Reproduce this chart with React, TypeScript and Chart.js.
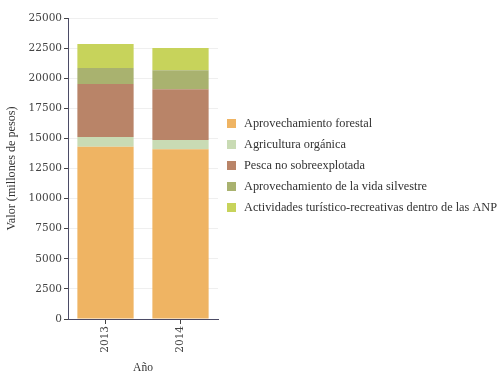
import React, { useEffect, useRef } from "react";
import { Chart, registerables } from "chart.js";

Chart.register(...registerables);

// Years on the x axis
const years = ["2013", "2014"];

// Value by activity, millions of pesos
const aprovechamientoForestal = [14300, 14100];
const agriculturaOrganica = [820, 760];
const pescaNoSobreexplotada = [4400, 4230];
const aprovechamientoVidaSilvestre = [1330, 1580];
const actividadesTuristicas = [2000, 1830];

const seriesNames = [
  "Aprovechamiento forestal",
  "Agricultura orgánica",
  "Pesca no sobreexplotada",
  "Aprovechamiento de la vida silvestre",
  "Actividades turístico-recreativas dentro de las ANP",
];
const seriesColors = ["#efb463", "#c9dbb4", "#b98468", "#a9b26f", "#c7d35b"];

const SERIF = "'Liberation Serif', 'Times New Roman', serif";
const TICK_FONT = "'DejaVu Serif', serif";

// Legend drawn beside the plot, one row per dataset
const sideLegend = {
  id: "sideLegend",
  afterDraw(chart: Chart) {
    const { ctx, chartArea } = chart;
    const rowGap = 21;
    const n = chart.data.datasets.length;
    const mid = (chartArea.top + chartArea.bottom) / 2 - 3;
    const firstY = mid - ((n - 1) * rowGap) / 2;
    const boxX = chartArea.right + 9;
    ctx.save();
    ctx.font = `12.3px ${SERIF}`;
    ctx.textBaseline = "middle";
    ctx.textAlign = "left";
    chart.data.datasets.forEach((ds, i) => {
      const y = firstY + i * rowGap;
      ctx.fillStyle = ds.backgroundColor as string;
      ctx.fillRect(boxX, y - 4.5, 9, 9);
      ctx.fillStyle = "#333";
      ctx.fillText(ds.label as string, boxX + 17, y + 0.5);
    });
    ctx.restore();
  },
};

export default function App() {
  const canvasRef = useRef<HTMLCanvasElement | null>(null);

  useEffect(() => {
    if (!canvasRef.current) return;
    const values = [
      aprovechamientoForestal,
      agriculturaOrganica,
      pescaNoSobreexplotada,
      aprovechamientoVidaSilvestre,
      actividadesTuristicas,
    ];
    const chart = new Chart(canvasRef.current, {
      type: "bar",
      data: {
        labels: years,
        datasets: values.map((data, i) => ({
          label: seriesNames[i],
          data,
          backgroundColor: seriesColors[i],
          borderWidth: 0,
          barPercentage: 0.75,
          categoryPercentage: 1,
        })),
      },
      plugins: [sideLegend],
      options: {
        responsive: false,
        animation: false,
        layout: { padding: { top: 18, left: 0, bottom: 0, right: 283 } },
        plugins: {
          tooltip: { enabled: false },
          legend: { display: false },
        },
        scales: {
          x: {
            stacked: true,
            afterFit: (scale) => {
              scale.height = 54;
            },
            grid: {
              offset: false,
              color: "rgba(0,0,0,0)",
              tickColor: "#444",
              tickLength: 5,
            },
            border: { color: "#4b4b66", width: 1 },
            ticks: {
              minRotation: 90,
              maxRotation: 90,
              color: "#444",
              padding: 2,
              font: { family: TICK_FONT, size: 10.5 },
            },
            title: {
              display: true,
              text: "Año",
              color: "#333",
              font: { family: SERIF, size: 11.5 },
              padding: { top: 4, bottom: -1.5 },
            },
          },
          y: {
            stacked: true,
            min: 0,
            max: 25000,
            afterFit: (scale) => {
              scale.width = 68;
            },
            grid: {
              color: "#efefef",
              tickColor: "#444",
              tickLength: 4,
            },
            border: { color: "#4b4b66", width: 1 },
            ticks: {
              stepSize: 2500,
              color: "#444",
              padding: 2,
              font: { family: TICK_FONT, size: 10.5 },
              callback: (v) => String(v),
            },
            title: {
              display: true,
              text: "Valor (millones de pesos)",
              color: "#333",
              font: { family: SERIF, size: 12.2 },
              padding: { top: 4, bottom: 0 },
            },
          },
        },
      },
    });
    return () => chart.destroy();
  }, []);

  return (
    <div style={{ position: "absolute", left: 0, top: 0, width: 501, height: 373, background: "#fff" }}>
      <canvas ref={canvasRef} width={501} height={373} />
    </div>
  );
}
